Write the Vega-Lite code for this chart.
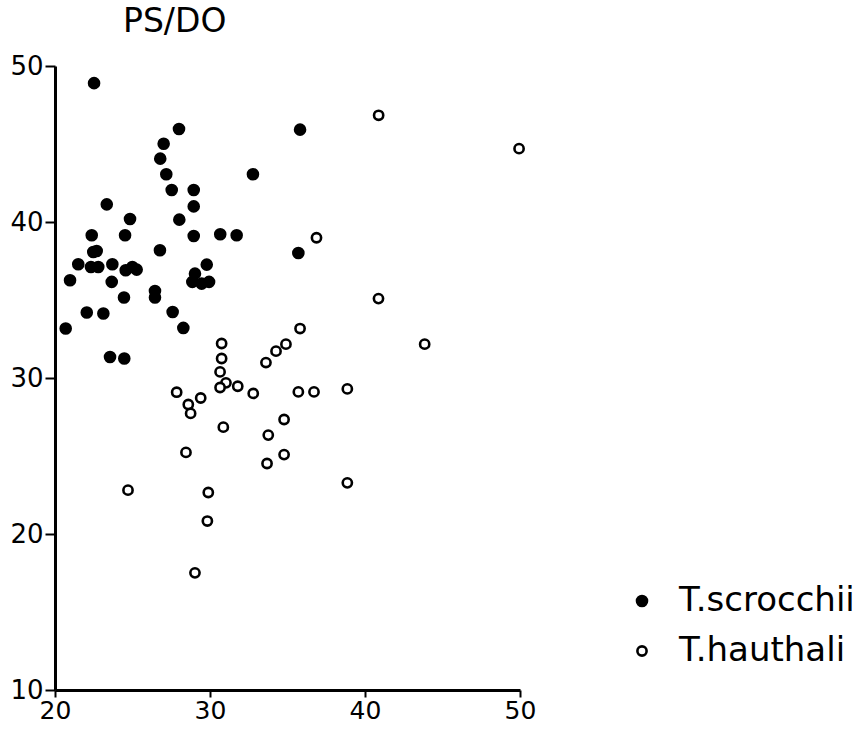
{
  "$schema": "https://vega.github.io/schema/vega-lite/v6.json",
  "autosize": "none",
  "width": 465,
  "height": 624,
  "padding": {"left": 55, "top": 66, "right": 347, "bottom": 39},
  "background": "white",
  "title": {"text": "PS/DO", "anchor": "start", "frame": "group", "dx": 68, "offset": 14, "fontSize": 33, "fontWeight": "normal", "font": "DejaVu Sans", "color": "black"},
  "config": {"view": {"stroke": null}},
  "data": {"values": [
    {"x": 22.52, "y": 48.9, "species": "T.scrocchii"},
    {"x": 28.0, "y": 45.96, "species": "T.scrocchii"},
    {"x": 27.01, "y": 45.02, "species": "T.scrocchii"},
    {"x": 26.79, "y": 44.06, "species": "T.scrocchii"},
    {"x": 27.18, "y": 43.06, "species": "T.scrocchii"},
    {"x": 27.53, "y": 42.05, "species": "T.scrocchii"},
    {"x": 28.95, "y": 42.05, "species": "T.scrocchii"},
    {"x": 23.34, "y": 41.13, "species": "T.scrocchii"},
    {"x": 28.95, "y": 41.0, "species": "T.scrocchii"},
    {"x": 24.84, "y": 40.19, "species": "T.scrocchii"},
    {"x": 28.02, "y": 40.15, "species": "T.scrocchii"},
    {"x": 22.37, "y": 39.15, "species": "T.scrocchii"},
    {"x": 24.52, "y": 39.15, "species": "T.scrocchii"},
    {"x": 28.95, "y": 39.1, "species": "T.scrocchii"},
    {"x": 30.66, "y": 39.21, "species": "T.scrocchii"},
    {"x": 22.47, "y": 38.08, "species": "T.scrocchii"},
    {"x": 22.69, "y": 38.14, "species": "T.scrocchii"},
    {"x": 26.77, "y": 38.19, "species": "T.scrocchii"},
    {"x": 21.5, "y": 37.29, "species": "T.scrocchii"},
    {"x": 22.32, "y": 37.12, "species": "T.scrocchii"},
    {"x": 22.79, "y": 37.12, "species": "T.scrocchii"},
    {"x": 23.7, "y": 37.29, "species": "T.scrocchii"},
    {"x": 24.56, "y": 36.91, "species": "T.scrocchii"},
    {"x": 24.99, "y": 37.12, "species": "T.scrocchii"},
    {"x": 25.27, "y": 36.95, "species": "T.scrocchii"},
    {"x": 29.79, "y": 37.27, "species": "T.scrocchii"},
    {"x": 29.03, "y": 36.69, "species": "T.scrocchii"},
    {"x": 28.86, "y": 36.16, "species": "T.scrocchii"},
    {"x": 29.46, "y": 36.05, "species": "T.scrocchii"},
    {"x": 29.94, "y": 36.16, "species": "T.scrocchii"},
    {"x": 20.97, "y": 36.27, "species": "T.scrocchii"},
    {"x": 23.66, "y": 36.16, "species": "T.scrocchii"},
    {"x": 26.45, "y": 35.58, "species": "T.scrocchii"},
    {"x": 26.45, "y": 35.16, "species": "T.scrocchii"},
    {"x": 24.45, "y": 35.16, "species": "T.scrocchii"},
    {"x": 22.05, "y": 34.2, "species": "T.scrocchii"},
    {"x": 23.12, "y": 34.13, "species": "T.scrocchii"},
    {"x": 27.59, "y": 34.23, "species": "T.scrocchii"},
    {"x": 20.69, "y": 33.17, "species": "T.scrocchii"},
    {"x": 28.28, "y": 33.21, "species": "T.scrocchii"},
    {"x": 23.55, "y": 31.35, "species": "T.scrocchii"},
    {"x": 24.47, "y": 31.25, "species": "T.scrocchii"},
    {"x": 35.81, "y": 45.92, "species": "T.scrocchii"},
    {"x": 32.77, "y": 43.06, "species": "T.scrocchii"},
    {"x": 31.72, "y": 39.15, "species": "T.scrocchii"},
    {"x": 35.7, "y": 38.01, "species": "T.scrocchii"},
    {"x": 40.88, "y": 46.84, "species": "T.hauthali"},
    {"x": 49.94, "y": 44.7, "species": "T.hauthali"},
    {"x": 36.87, "y": 38.99, "species": "T.hauthali"},
    {"x": 40.87, "y": 35.09, "species": "T.hauthali"},
    {"x": 43.85, "y": 32.17, "species": "T.hauthali"},
    {"x": 35.81, "y": 33.17, "species": "T.hauthali"},
    {"x": 30.75, "y": 32.21, "species": "T.hauthali"},
    {"x": 34.9, "y": 32.17, "species": "T.hauthali"},
    {"x": 34.26, "y": 31.72, "species": "T.hauthali"},
    {"x": 30.75, "y": 31.25, "species": "T.hauthali"},
    {"x": 33.61, "y": 30.99, "species": "T.hauthali"},
    {"x": 30.65, "y": 30.39, "species": "T.hauthali"},
    {"x": 31.03, "y": 29.69, "species": "T.hauthali"},
    {"x": 30.65, "y": 29.39, "species": "T.hauthali"},
    {"x": 31.79, "y": 29.47, "species": "T.hauthali"},
    {"x": 27.85, "y": 29.09, "species": "T.hauthali"},
    {"x": 32.79, "y": 29.01, "species": "T.hauthali"},
    {"x": 35.7, "y": 29.11, "species": "T.hauthali"},
    {"x": 36.71, "y": 29.11, "species": "T.hauthali"},
    {"x": 28.6, "y": 28.3, "species": "T.hauthali"},
    {"x": 29.4, "y": 28.72, "species": "T.hauthali"},
    {"x": 28.75, "y": 27.73, "species": "T.hauthali"},
    {"x": 34.78, "y": 27.34, "species": "T.hauthali"},
    {"x": 30.86, "y": 26.85, "species": "T.hauthali"},
    {"x": 33.76, "y": 26.34, "species": "T.hauthali"},
    {"x": 28.45, "y": 25.23, "species": "T.hauthali"},
    {"x": 34.78, "y": 25.09, "species": "T.hauthali"},
    {"x": 33.68, "y": 24.52, "species": "T.hauthali"},
    {"x": 38.86, "y": 29.3, "species": "T.hauthali"},
    {"x": 38.86, "y": 23.28, "species": "T.hauthali"},
    {"x": 29.89, "y": 22.66, "species": "T.hauthali"},
    {"x": 29.83, "y": 20.83, "species": "T.hauthali"},
    {"x": 29.03, "y": 17.51, "species": "T.hauthali"},
    {"x": 24.71, "y": 22.81, "species": "T.hauthali"}
  ]},
  "mark": {"type": "point", "shape": "circle", "filled": true, "stroke": "black", "strokeWidth": 2.6, "opacity": 1},
  "encoding": {
    "x": {"field": "x", "type": "quantitative",
      "scale": {"domain": [20, 50], "nice": false, "zero": false},
      "axis": {"title": null, "values": [20, 30, 40, 50], "grid": false, "domainColor": "black", "domainWidth": 3, "tickColor": "black", "tickWidth": 2, "tickSize": 7, "labelFont": "DejaVu Sans", "labelFontSize": 25, "labelColor": "black", "labelPadding": 1, "labelFlush": false}},
    "y": {"field": "y", "type": "quantitative",
      "scale": {"domain": [10, 50], "nice": false, "zero": false},
      "axis": {"title": null, "values": [10, 20, 30, 40, 50], "grid": false, "domainColor": "black", "domainWidth": 3, "tickColor": "black", "tickWidth": 2, "tickSize": 10, "labelFont": "DejaVu Sans", "labelFontSize": 26, "labelColor": "black", "labelPadding": 2, "labelFlush": false}},
    "fill": {"field": "species", "type": "nominal",
      "scale": {"domain": ["T.scrocchii", "T.hauthali"], "range": ["black", "white"]},
      "legend": {"title": null, "orient": "none", "legendX": 570, "legendY": 518, "labelFont": "DejaVu Sans", "labelFontSize": 34, "labelLimit": 400, "labelColor": "black", "labelOffset": 20, "rowPadding": 16, "symbolStrokeColor": "black", "symbolStrokeWidth": 2.6, "symbolType": "circle"}},
    "size": {"field": "species", "type": "nominal",
      "scale": {"domain": ["T.scrocchii", "T.hauthali"], "range": [100, 85]}}
  }
}
